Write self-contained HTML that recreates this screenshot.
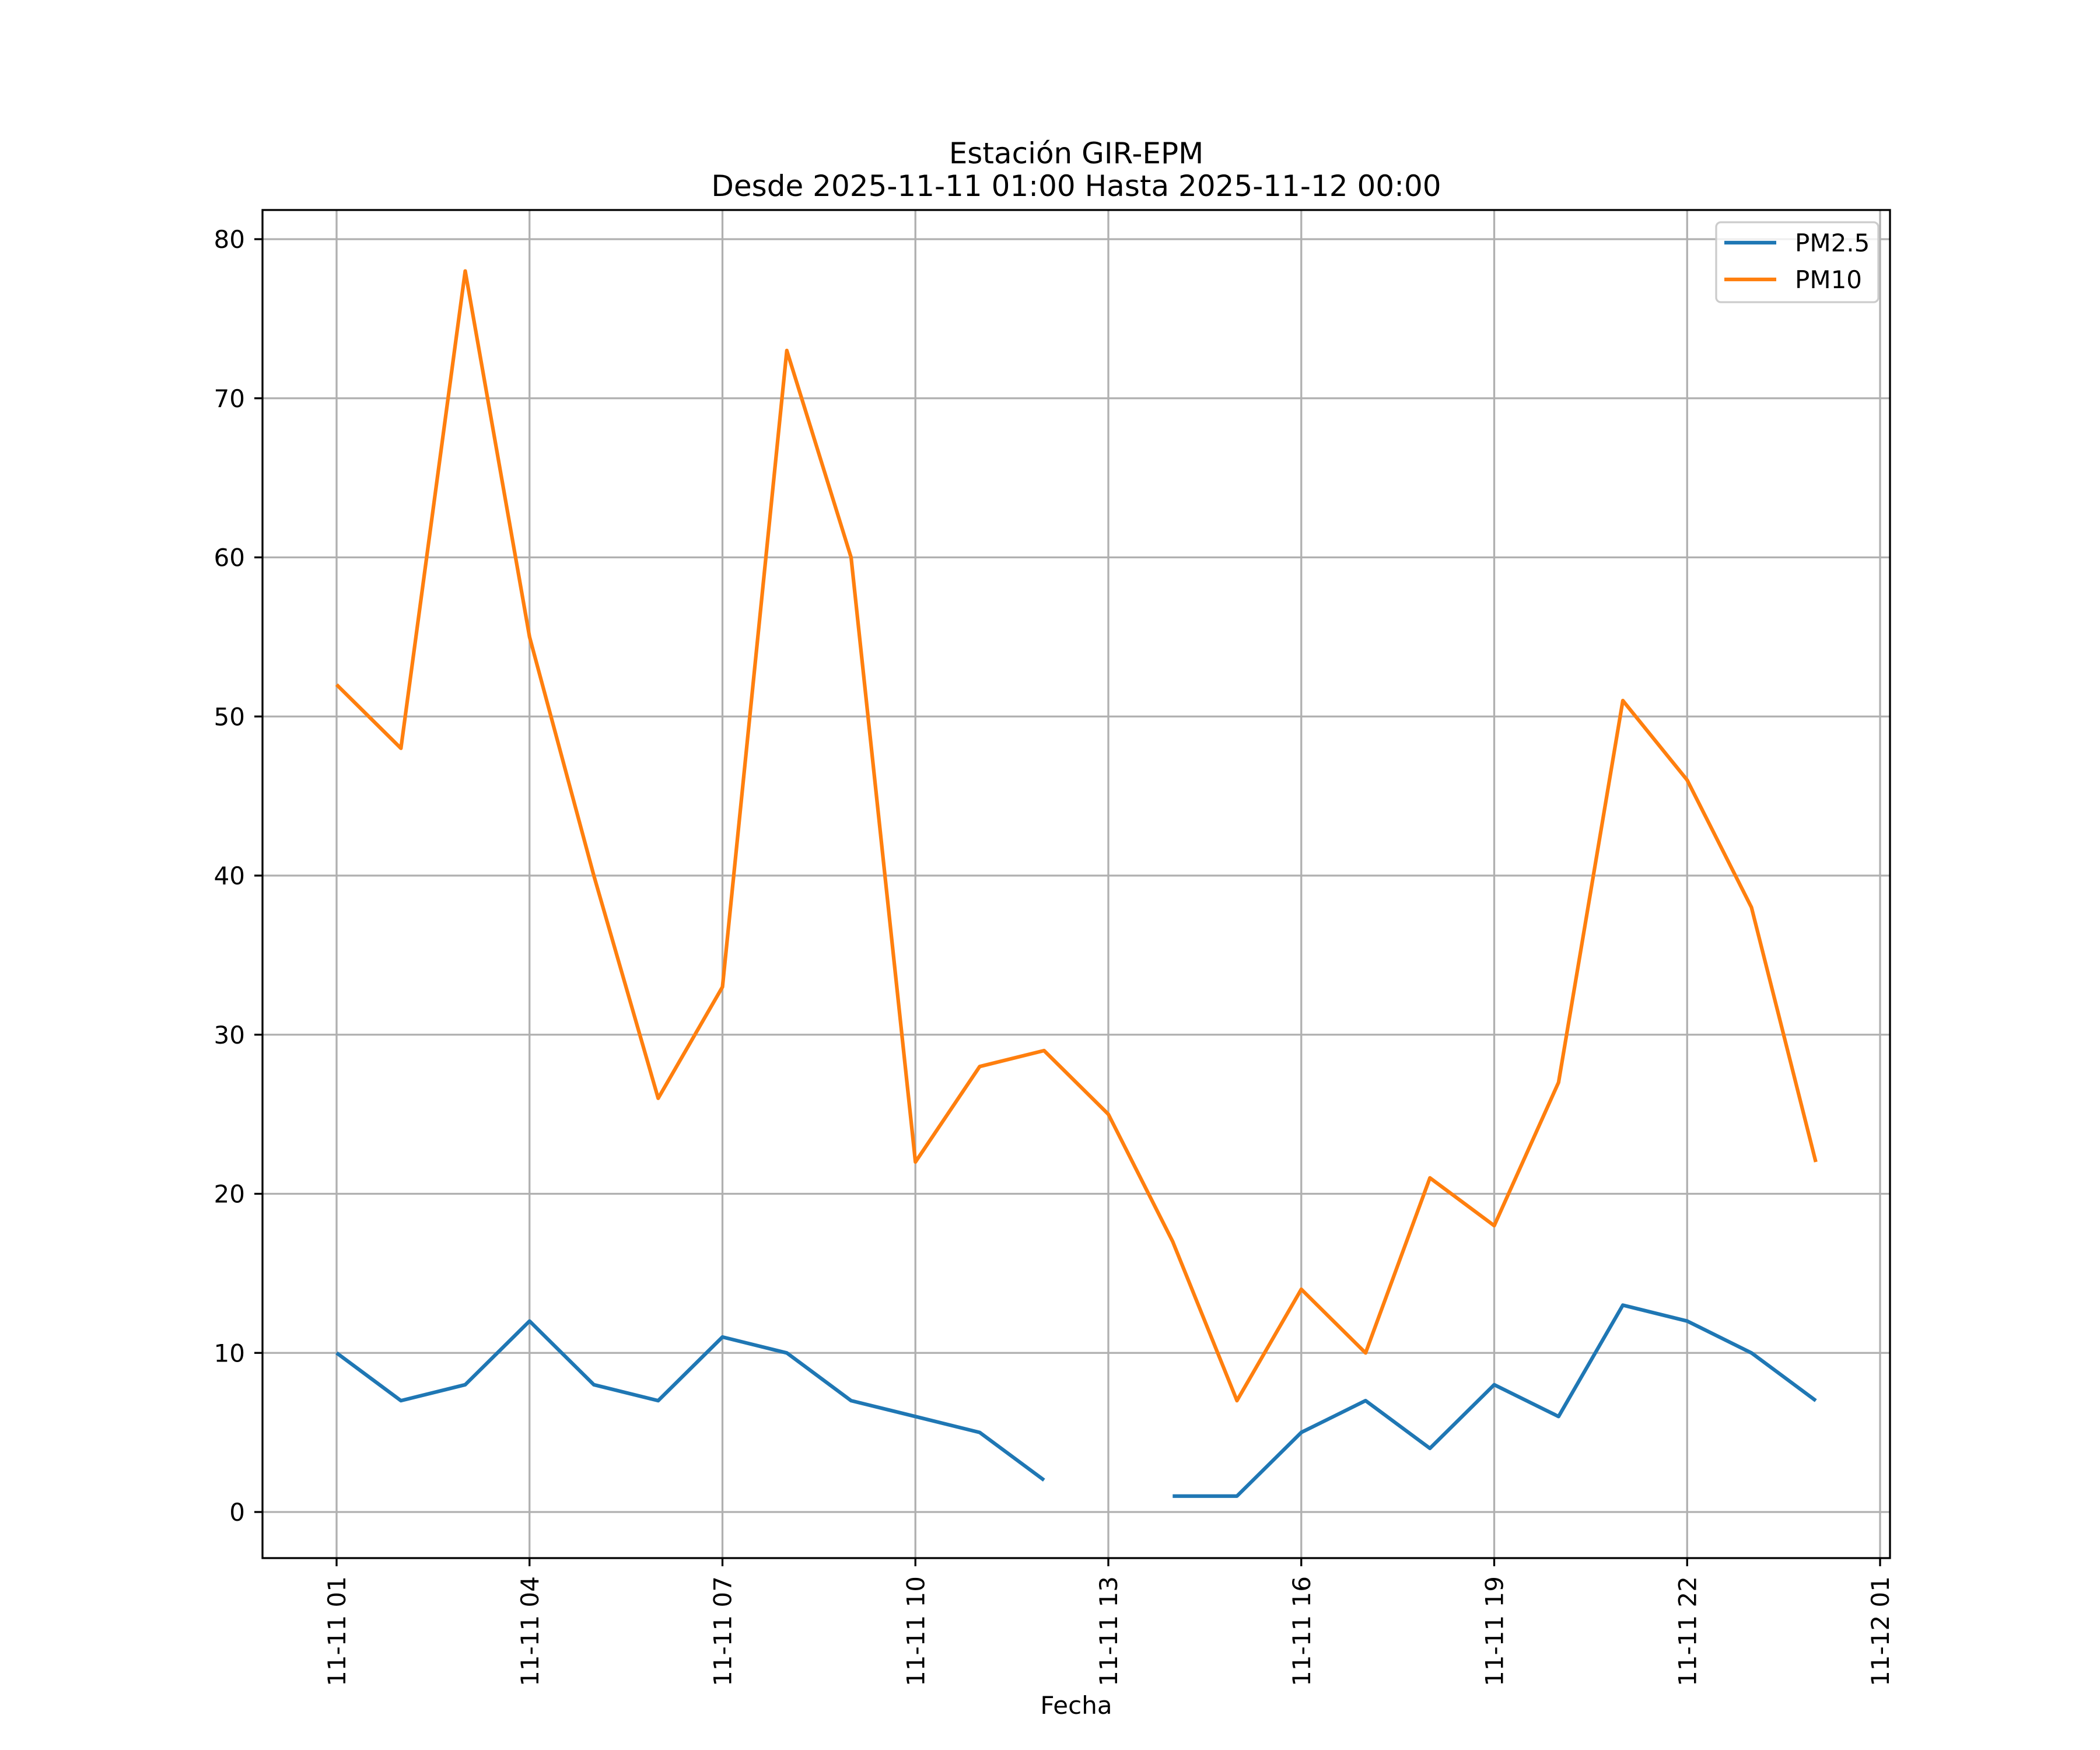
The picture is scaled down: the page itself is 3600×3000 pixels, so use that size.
<!DOCTYPE html>
<html><head><meta charset="utf-8"><style>
html,body{margin:0;padding:0;background:#fff;}
svg{display:block;font-family:"DejaVu Sans","Liberation Sans",sans-serif;}
</style></head><body>
<svg id="chart" width="3600" height="3000" viewBox="0 0 3600 3000" xmlns="http://www.w3.org/2000/svg">
<rect width="3600" height="3000" fill="#fff"/>
<text x="1845" y="280" font-size="50" text-anchor="middle">Estación GIR-EPM</text>
<text x="1845" y="336" font-size="50" text-anchor="middle">Desde 2025-11-11 01:00 Hasta 2025-11-12 00:00</text>
<g id="grid"></g>
<g id="series"></g>
<rect x="450" y="360" width="2790" height="2311" fill="none" stroke="#000" stroke-width="3.3"/>
<g id="ticks"></g>
<text x="1845" y="2938" font-size="42" text-anchor="middle">Fecha</text>
<g>
<rect x="2942" y="381" width="278" height="137" rx="8" fill="#fff" fill-opacity="0.8" stroke="#ccc" stroke-width="3.3"/>
<line x1="2956" y1="416" x2="3045" y2="416" stroke="#1f77b4" stroke-width="6.25"/>
<text x="3077" y="431" font-size="42">PM2.5</text>
<line x1="2956" y1="479" x2="3045" y2="479" stroke="#ff7f0e" stroke-width="6.25"/>
<text x="3077" y="494" font-size="42">PM10</text>
</g>
</svg>
<script>
const hours = [1,2,3,4,5,6,7,8,9,10,11,12,13,14,15,16,17,18,19,20,21,22,23,24];
const pm25 = [10,7,8,12,8,7,11,10,7,6,5,2,null,1,1,5,7,4,8,6,13,12,10,7];
const pm10 = [52,48,78,55,40,26,33,73,60,22,28,29,25,17,7,14,10,21,18,27,51,46,38,22];
const yTicks = [0,10,20,30,40,50,60,70,80];
const xTickHours = [1,4,7,10,13,16,19,22,25];
const xTickLabels = ["11-11 01","11-11 04","11-11 07","11-11 10","11-11 13","11-11 16","11-11 19","11-11 22","11-12 01"];

const NS="http://www.w3.org/2000/svg";
const xS=h=>577+(h-1)*(3223-577)/24;
const yS=v=>2592-v*(2592-410)/80;
function mk(tag,attrs,parent){const e=document.createElementNS(NS,tag);for(const k in attrs)e.setAttribute(k,attrs[k]);parent.appendChild(e);return e;}
const grid=document.getElementById('grid'),ticks=document.getElementById('ticks'),series=document.getElementById('series');
yTicks.forEach(v=>{
  const y=yS(v);
  const g=mk('line',{x1:450,x2:3240,y1:y,y2:y,stroke:'#b0b0b0','stroke-width':3.3},grid);
  
  
  const t=mk('line',{x1:436,x2:450,y1:y,y2:y,stroke:'#000','stroke-width':3.3},ticks);
  
  
  const l=mk('text',{x:420,y:y+15,'font-size':42,'text-anchor':'end'},ticks);
  l.textContent=v;
  
  
});
xTickHours.forEach((h,i)=>{
  const x=xS(h);
  const g=mk('line',{x1:x,x2:x,y1:360,y2:2671,stroke:'#b0b0b0','stroke-width':3.3},grid);
  
  
  const t=mk('line',{x1:x,x2:x,y1:2671,y2:2685,stroke:'#000','stroke-width':3.3},ticks);
  
  
  const l=mk('text',{x:0,y:0,'font-size':42,'text-anchor':'end',transform:`translate(${x+15},2702) rotate(-90)`},ticks);
  l.textContent=xTickLabels[i];
  
  
});
function drawSeries(vals,color,name){
  let segs=[],cur=[];
  vals.forEach((v,i)=>{if(v===null){if(cur.length)segs.push(cur);cur=[];}else cur.push(xS(hours[i]).toFixed(1)+','+yS(v).toFixed(1));});
  if(cur.length)segs.push(cur);
  segs.forEach(s=>{
    const p=mk('polyline',{points:s.join(' '),fill:'none',stroke:color,'stroke-width':6.25,'stroke-linejoin':'round'},series);
    
    
  });
}
drawSeries(pm25,'#1f77b4','pm25-line');
drawSeries(pm10,'#ff7f0e','pm10-line');
</script>
</body></html>
